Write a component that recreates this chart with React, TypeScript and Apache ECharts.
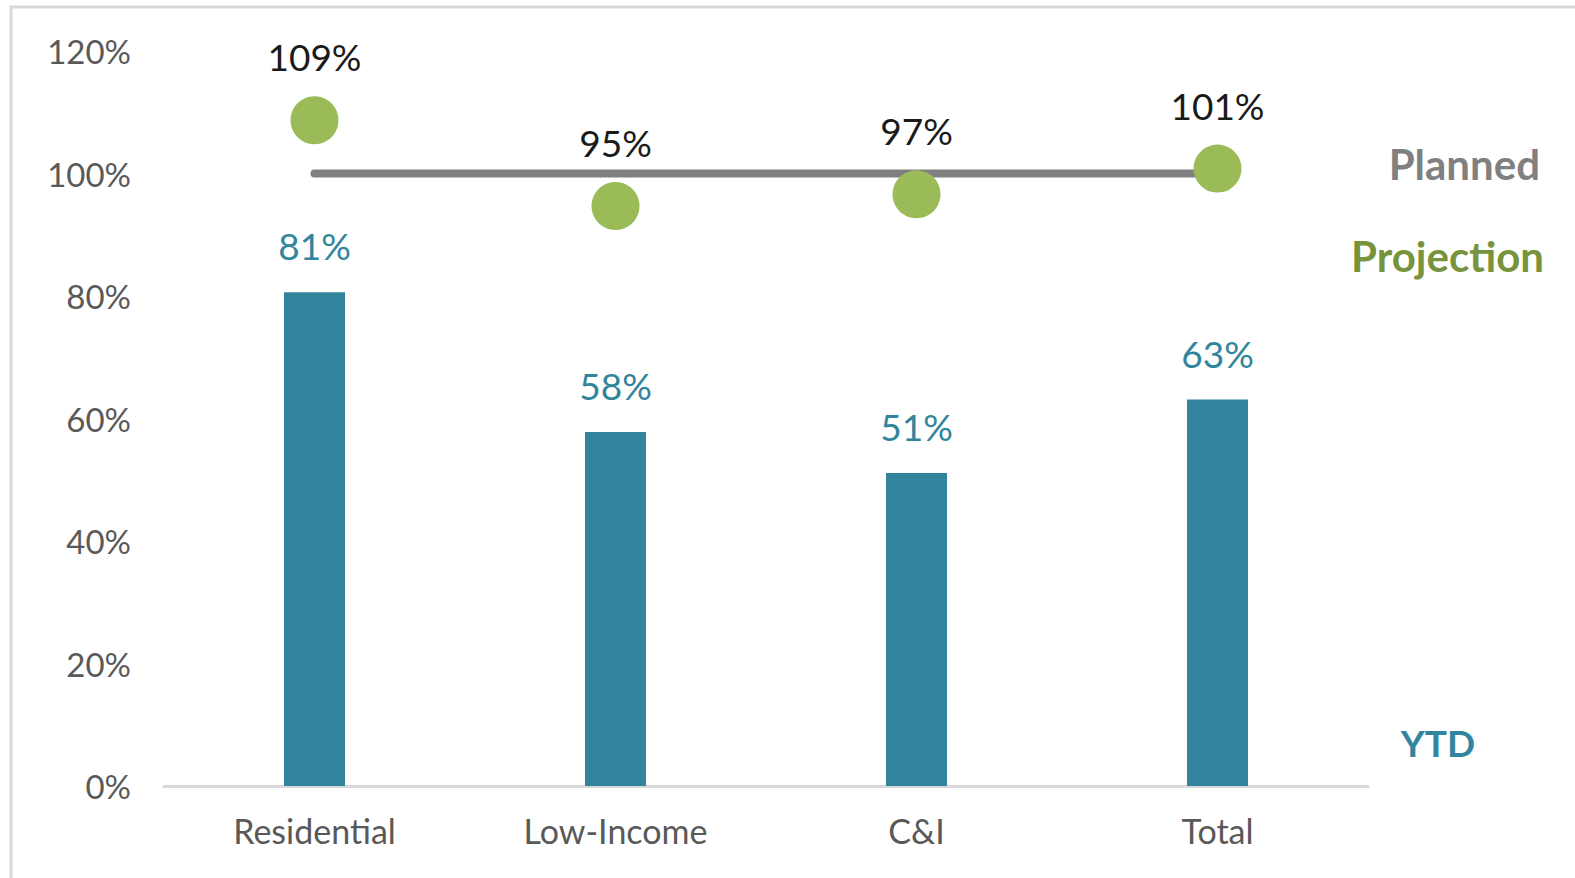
import React, { useEffect, useRef } from "react";
import * as echarts from "echarts";

const categories = ["Residential", "Low-Income", "C&I", "Total"];
const ytdValues = [0.806, 0.578, 0.511, 0.631];
const projectionValues = [1.087, 0.947, 0.966, 1.008];
const plannedValues = [1.0, 1.0, 1.0, 1.0];
const legendLabels = { planned: "Planned", projection: "Projection", ytd: "YTD" };

const FONT = "Lato, 'Open Sans', sans-serif";
const pct = (v: number) => `${Math.round(v * 100)}%`;

export default function App() {
  const ref = useRef<HTMLDivElement>(null);
  useEffect(() => {
    if (!ref.current) return;
    const chart = echarts.init(ref.current, null, { renderer: "svg" });
    chart.setOption({
      animation: false,
      backgroundColor: "#ffffff",
      textStyle: { fontFamily: FONT },
      grid: { left: 164, right: 207, top: 51, bottom: 92 },
      xAxis: {
        type: "category",
        data: categories,
        axisLine: { lineStyle: { color: "#D9D9D9", width: 3 } },
        axisTick: { show: false },
        axisLabel: { color: "#595959", fontSize: 34, margin: 27, fontFamily: FONT },
      },
      yAxis: {
        type: "value",
        min: 0,
        max: 1.2,
        interval: 0.2,
        splitLine: { show: false },
        axisLine: { show: false },
        axisTick: { show: false },
        axisLabel: {
          color: "#595959",
          fontSize: 33,
          margin: 33,
          fontFamily: FONT,
          formatter: (v: number) => pct(v),
        },
      },
      series: [
        {
          name: "YTD",
          type: "bar",
          data: ytdValues,
          barWidth: 61,
          itemStyle: { color: "#31849B" },
          label: {
            show: true,
            position: "top",
            distance: 28,
            color: "#31859C",
            fontSize: 37,
            fontFamily: FONT,
            formatter: (p: any) => pct(p.value),
          },
          z: 2,
        },
        {
          name: "Planned",
          type: "line",
          data: plannedValues,
          symbol: "none",
          lineStyle: { color: "#808080", width: 8, cap: "round" },
          z: 3,
        },
        {
          name: "Projection",
          type: "scatter",
          data: projectionValues,
          symbolSize: 48,
          itemStyle: { color: "#9BBB59", opacity: 1 },
          label: {
            show: true,
            position: "top",
            distance: 21,
            color: "#1a1a1a",
            fontSize: 37,
            fontFamily: FONT,
            formatter: (p: any) => pct(p.value),
          },
          z: 4,
        },
      ],
      graphic: [
        {
          type: "rect",
          shape: { x: 11, y: 7, width: 1700, height: 1000 },
          style: { fill: "none", stroke: "#D9D9D9", lineWidth: 3 },
          silent: true,
        },
        {
          type: "text",
          x: 1540,
          y: 164,
          style: {
            text: legendLabels.planned,
            fill: "#808080",
            fontSize: 42,
            fontWeight: "bold",
            fontFamily: FONT,
            align: "right",
            verticalAlign: "middle",
          },
        },
        {
          type: "text",
          x: 1544,
          y: 256,
          style: {
            text: legendLabels.projection,
            fill: "#77933C",
            fontSize: 42,
            fontWeight: "bold",
            fontFamily: FONT,
            align: "right",
            verticalAlign: "middle",
          },
        },
        {
          type: "text",
          x: 1438,
          y: 742,
          style: {
            text: legendLabels.ytd,
            fill: "#31859C",
            fontSize: 37,
            fontWeight: "bold",
            fontFamily: FONT,
            align: "center",
            verticalAlign: "middle",
          },
        },
      ],
    });
    return () => chart.dispose();
  }, []);
  return (
    <div
      ref={ref}
      style={{ position: "fixed", left: 0, top: 0, width: 1575, height: 878 }}
    />
  );
}
